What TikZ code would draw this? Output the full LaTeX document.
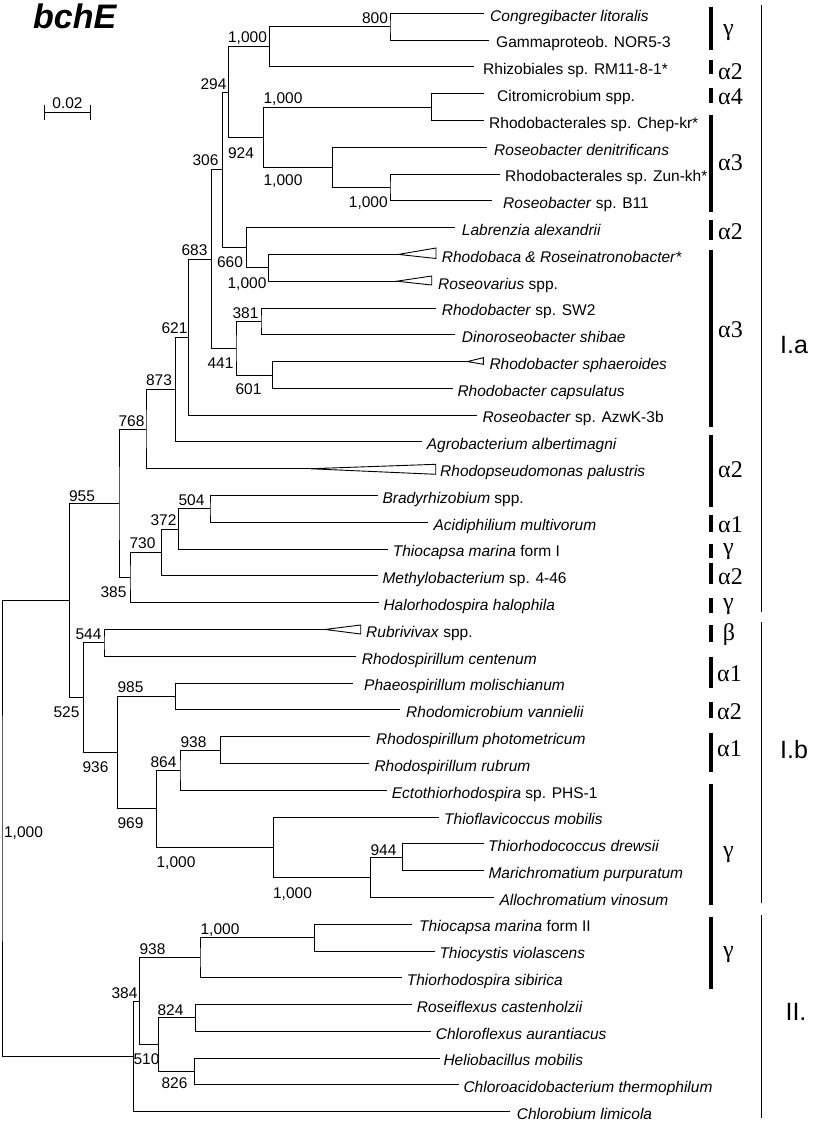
\documentclass[tikz,border=0pt]{standalone}
\usepackage{fontspec}
\setmainfont{Liberation Sans}
\newfontfamily\grkfont{Liberation Serif}
\newcommand\Yv[1]{13.3+26.79*#1}
\tikzset{
  br/.style={line width=0.9pt, line cap=rect},
  leaf/.style={anchor=base west, inner sep=0pt, font=\fontsize{15.5}{16}\selectfont},
  boot/.style={anchor=base, inner sep=0pt, font=\fontsize{15.5}{16}\selectfont},
  grpbar/.style={line width=3.4pt},
  cladebar/.style={line width=1pt},
  glab/.style={inner sep=0pt, font=\grkfont\fontsize{24}{25}\selectfont},
  clab/.style={inner sep=0pt, font=\fontsize{25}{26}\selectfont},
}
\newcommand\leaf[4]{\coordinate (L#1) at (#2,{\Yv{#1}}); \node[leaf] (T#1) at (#3,{\Yv{#1}+7.8}) {#4};}
\newcommand\fork[3]{\draw[br] (#2) -| (#1) |- (#3);}
\newcommand\bs[4]{\node[boot] (#1) at (#2,{#3+5.5}) {#4};}
\begin{document}
\begin{tikzpicture}[x=1pt,y=-1pt]
\useasboundingbox (0,0) rectangle (812,1122);
% title and scale
\node[anchor=base west, inner sep=0pt, font=\bfseries\itshape\fontsize{34}{36}\selectfont] (title) at (33,28) {bchE};
\coordinate (s1) at (44.3,112.3); \coordinate (s2) at (90.7,112.3);
\coordinate (s1a) at (44.3,105); \coordinate (s1b) at (44.3,119.5);
\coordinate (s2a) at (90.7,105); \coordinate (s2b) at (90.7,119.5);
\draw[br] (s1) -- (s2); \draw[br] (s1a) -- (s1b); \draw[br] (s2a) -- (s2b);
\node[boot] (scl) at (67.5,108.2) {0.02};
% leaves
\leaf{0}{483.3}{490}{\textit{Congregibacter litoralis}}
\leaf{1}{488.3}{496}{Gammaproteob. NOR5-3}
\leaf{2}{473.3}{483}{Rhizobiales sp. RM11-8-1*}
\leaf{3}{483.3}{497}{Citromicrobium spp.}
\leaf{4}{483.3}{489}{Rhodobacterales sp. Chep-kr*}
\leaf{5}{486.7}{494}{\textit{Roseobacter denitrificans}}
\leaf{6}{499.3}{505}{Rhodobacterales sp. Zun-kh*}
\leaf{7}{491.7}{503}{\textit{Roseobacter} sp. B11}
\leaf{8}{455}{461.7}{\textit{Labrenzia alexandrii}}
\leaf{9}{398.3}{441.7}{\textit{Rhodobaca \& Roseinatronobacter*}}
\leaf{10}{396.7}{438}{\textit{Roseovarius} spp.}
\leaf{11}{436}{441.7}{\textit{Rhodobacter} sp. SW2}
\leaf{12}{455}{461.7}{\textit{Dinoroseobacter shibae}}
\leaf{13}{467.3}{489.3}{\textit{Rhodobacter sphaeroides}}
\leaf{14}{452.7}{457.3}{\textit{Rhodobacter capsulatus}}
\leaf{15}{476.7}{482.3}{\textit{Roseobacter} sp. AzwK-3b}
\leaf{16}{421.7}{426.7}{\textit{Agrobacterium albertimagni}}
\leaf{17}{310}{440}{\textit{Rhodopseudomonas palustris}}
\leaf{18}{377.3}{382.3}{\textit{Bradyrhizobium} spp.}
\leaf{19}{427.3}{433.3}{\textit{Acidiphilium multivorum}}
\leaf{20}{387.3}{392.7}{\textit{Thiocapsa marina} form I}
\leaf{21}{377.3}{382.3}{\textit{Methylobacterium} sp. 4-46}
\leaf{22}{378.3}{383.3}{\textit{Halorhodospira halophila}}
\leaf{23}{325}{366}{\textit{Rubrivivax} spp.}
\leaf{24}{356}{361.7}{\textit{Rhodospirillum centenum}}
\leaf{25}{352.7}{364}{\textit{Phaeospirillum molischianum}}
\leaf{26}{400}{406}{\textit{Rhodomicrobium vannielii}}
\leaf{27}{370}{376}{\textit{Rhodospirillum photometricum}}
\leaf{28}{369}{374.3}{\textit{Rhodospirillum rubrum}}
\leaf{29}{386.7}{391.7}{\textit{Ectothiorhodospira} sp. PHS-1}
\leaf{30}{438.3}{444}{\textit{Thioflavicoccus mobilis}}
\leaf{31}{484}{488}{\textit{Thiorhodococcus drewsii}}
\leaf{32}{483.3}{488.3}{\textit{Marichromatium purpuratum}}
\leaf{33}{493.3}{499.3}{\textit{Allochromatium vinosum}}
\leaf{34}{411.7}{419}{\textit{Thiocapsa marina} form II}
\leaf{35}{435}{439.3}{\textit{Thiocystis violascens}}
\leaf{36}{401.7}{406.7}{\textit{Thiorhodospira sibirica}}
\leaf{37}{411.7}{416.7}{\textit{Roseiflexus castenholzii}}
\leaf{38}{430.7}{435.7}{\textit{Chloroflexus aurantiacus}}
\leaf{39}{439.3}{443.3}{\textit{Heliobacillus mobilis}}
\leaf{40}{458.3}{463.3}{\textit{Chloroacidobacterium thermophilum}}
\leaf{41}{510}{516.7}{\textit{Chlorobium limicola}}
% collapsed triangles
\draw[br] (L9) -- (436,248) -- (436,258.5) -- cycle;
\draw[br] (L10) -- (431.7,276) -- (431.7,285) -- cycle;
\draw[br] (L13) -- (483.3,357.7) -- (483.3,364.3) -- cycle;
\draw[br] (L17) -- (435.7,464.3) -- (435.7,474.3) -- cycle;
\draw[br] (L23) -- (360.7,625) -- (360.7,634) -- cycle;
% internal nodes
\coordinate (n800) at (390,{\Yv{0.5}});
\coordinate (nA) at (269.3,{\Yv{1.25}});
\coordinate (nCit) at (431.7,{\Yv{3.5}});
\coordinate (nZun) at (390,{\Yv{6.5}});
\coordinate (nRos) at (332.7,{\Yv{5.75}});
\coordinate (n924) at (263.3,{\Yv{4.625}});
\coordinate (n294) at (228.3,{\Yv{2.9375}});
\coordinate (nRba) at (268.3,{\Yv{9.5}});
\coordinate (n660) at (246.7,{\Yv{8.75}});
\coordinate (n306) at (222.7,{\Yv{5.84375}});
\coordinate (n381) at (261,{\Yv{11.5}});
\coordinate (n601) at (272.7,{\Yv{13.5}});
\coordinate (n441) at (236,{\Yv{12.5}});
\coordinate (n683) at (211.7,{\Yv{9.171875}});
\coordinate (n621) at (188.3,{\Yv{12.0859375}});
\coordinate (n873) at (175.7,{\Yv{14.04296875}});
\coordinate (n768) at (146,{\Yv{15.521484375}});
\coordinate (n504) at (210,{\Yv{18.5}});
\coordinate (n372) at (178.3,{\Yv{19.25}});
\coordinate (n730) at (161.7,{\Yv{20.125}});
\coordinate (n385) at (130,{\Yv{21.0625}});
\coordinate (n955) at (119,{\Yv{18.2919921875}});
\coordinate (n544) at (104,{\Yv{23.5}});
\coordinate (n985) at (175.7,{\Yv{25.5}});
\coordinate (n938) at (220.7,{\Yv{27.5}});
\coordinate (n864) at (180,{\Yv{28.25}});
\coordinate (n944) at (402.3,{\Yv{31.5}});
\coordinate (nAll) at (370.7,{\Yv{32.25}});
\coordinate (nTfl) at (273.3,{\Yv{31.125}});
\coordinate (n969) at (156.7,{\Yv{29.6875}});
\coordinate (n936) at (117.7,{\Yv{27.59375}});
\coordinate (n525) at (83.3,{\Yv{25.546875}});
\coordinate (nI) at (69.3,{\Yv{21.91943359375}});
\coordinate (nTc) at (314.3,{\Yv{34.5}});
\coordinate (n938b) at (200,{\Yv{35.25}});
\coordinate (n824) at (195.7,{\Yv{37.5}});
\coordinate (n826) at (194.3,{\Yv{39.5}});
\coordinate (n510) at (158.3,{\Yv{38.5}});
\coordinate (n384) at (139.3,{\Yv{36.875}});
\coordinate (nII) at (133.3,{\Yv{38.9375}});
\coordinate (root) at (2,{\Yv{30.428466796875}});
% forks
\fork{n800}{L0}{L1}
\fork{nA}{n800}{L2}
\fork{nCit}{L3}{L4}
\fork{nZun}{L6}{L7}
\fork{nRos}{L5}{nZun}
\fork{n924}{nCit}{nRos}
\fork{n294}{nA}{n924}
\fork{nRba}{L9}{L10}
\fork{n660}{L8}{nRba}
\fork{n306}{n294}{n660}
\fork{n381}{L11}{L12}
\fork{n601}{L13}{L14}
\fork{n441}{n381}{n601}
\fork{n683}{n306}{n441}
\fork{n621}{n683}{L15}
\fork{n873}{n621}{L16}
\fork{n768}{n873}{L17}
\fork{n504}{L18}{L19}
\fork{n372}{n504}{L20}
\fork{n730}{n372}{L21}
\fork{n385}{n730}{L22}
\fork{n955}{n768}{n385}
\fork{n544}{L23}{L24}
\fork{n985}{L25}{L26}
\fork{n938}{L27}{L28}
\fork{n864}{n938}{L29}
\fork{n944}{L31}{L32}
\fork{nAll}{n944}{L33}
\fork{nTfl}{L30}{nAll}
\fork{n969}{n864}{nTfl}
\fork{n936}{n985}{n969}
\fork{n525}{n544}{n936}
\fork{nI}{n955}{n525}
\fork{nTc}{L34}{L35}
\fork{n938b}{nTc}{L36}
\fork{n824}{L37}{L38}
\fork{n826}{L39}{L40}
\fork{n510}{n824}{n826}
\fork{n384}{n938b}{n510}
\fork{nII}{n384}{L41}
\fork{root}{nI}{nII}
% bootstrap values
\bs{b800}{375}{18}{800}
\bs{bA}{247.5}{37.3}{1,000}
\bs{b294}{213.5}{84}{294}
\bs{bCit}{283}{98}{1,000}
\bs{b924}{241}{153}{924}
\bs{b306}{205.5}{160}{306}
\bs{bRos}{283}{180}{1,000}
\bs{bZun}{368.3}{201.7}{1,000}
\bs{b683}{194.5}{250}{683}
\bs{b660}{230}{261.7}{660}
\bs{bRba}{247}{283}{1,000}
\bs{b381}{245.5}{313.3}{381}
\bs{b621}{174.5}{328}{621}
\bs{b441}{220.5}{362.7}{441}
\bs{b873}{159}{380}{873}
\bs{b601}{248.5}{389}{601}
\bs{b768}{131.5}{420.7}{768}
\bs{b955}{82}{496}{955}
\bs{b504}{191.5}{500}{504}
\bs{b372}{163.5}{520}{372}
\bs{b730}{142.5}{543}{730}
\bs{b385}{113.5}{592}{385}
\bs{b544}{88.5}{634}{544}
\bs{b985}{130.5}{687}{985}
\bs{b525}{66.5}{712.3}{525}
\bs{b938}{193.5}{741.7}{938}
\bs{b864}{163.5}{762.3}{864}
\bs{b936}{95.5}{766.7}{936}
\bs{b969}{130.5}{823}{969}
\bs{broot}{23.5}{832}{1,000}
\bs{b944}{383.5}{850}{944}
\bs{bTfl}{176}{861.7}{1,000}
\bs{bAll}{292.5}{893.3}{1,000}
\bs{bTc}{220}{929}{1,000}
\bs{b938b}{152.5}{949.3}{938}
\bs{b384}{124.5}{993.3}{384}
\bs{b824}{170.5}{1010}{824}
\bs{b510}{146.5}{1059}{510}
\bs{b826}{174.5}{1083.3}{826}
% group bars (thick) with Greek labels
\coordinate (g1a) at (711,6.7); \coordinate (g1b) at (711,50); \draw[grpbar] (g1a) -- (g1b);
\node[glab] (g1t) at (728.5,33) {γ};
\coordinate (g2a) at (711,60); \coordinate (g2b) at (711,74); \draw[grpbar] (g2a) -- (g2b);
\node[glab,anchor=west] (g2t) at (718,72) {α2};
\coordinate (g3a) at (711,88.3); \coordinate (g3b) at (711,103.3); \draw[grpbar] (g3a) -- (g3b);
\node[glab,anchor=west] (g3t) at (718,97) {α4};
\coordinate (g4a) at (711,115); \coordinate (g4b) at (711,211.7); \draw[grpbar] (g4a) -- (g4b);
\node[glab,anchor=west] (g4t) at (718,163) {α3};
\coordinate (g5a) at (711,220); \coordinate (g5b) at (711,240); \draw[grpbar] (g5a) -- (g5b);
\node[glab,anchor=west] (g5t) at (718,231.7) {α2};
\coordinate (g6a) at (711,250); \coordinate (g6b) at (711,426.7); \draw[grpbar] (g6a) -- (g6b);
\node[glab,anchor=west] (g6t) at (718,330) {α3};
\coordinate (g7a) at (711,435); \coordinate (g7b) at (711,506.7); \draw[grpbar] (g7a) -- (g7b);
\node[glab,anchor=west] (g7t) at (718,470) {α2};
\coordinate (g8a) at (711,515); \coordinate (g8b) at (711,531.7); \draw[grpbar] (g8a) -- (g8b);
\node[glab,anchor=west] (g8t) at (718,525) {α1};
\coordinate (g9a) at (711,544.3); \coordinate (g9b) at (711,558.3); \draw[grpbar] (g9a) -- (g9b);
\node[glab] (g9t) at (728.5,551.7) {γ};
\coordinate (g10a) at (711,563); \coordinate (g10b) at (711,584); \draw[grpbar] (g10a) -- (g10b);
\node[glab,anchor=west] (g10t) at (718,576.7) {α2};
\coordinate (g11a) at (711,598); \coordinate (g11b) at (711,613); \draw[grpbar] (g11a) -- (g11b);
\node[glab] (g11t) at (728.5,606.7) {γ};
\coordinate (g12a) at (711,625); \coordinate (g12b) at (711,641.7); \draw[grpbar] (g12a) -- (g12b);
\node[glab] (g12t) at (729,635) {β};
\coordinate (g13a) at (711,656.7); \coordinate (g13b) at (711,688.3); \draw[grpbar] (g13a) -- (g13b);
\node[glab,anchor=west] (g13t) at (717,673.3) {α1};
\coordinate (g14a) at (711,701.7); \coordinate (g14b) at (711,718.3); \draw[grpbar] (g14a) -- (g14b);
\node[glab,anchor=west] (g14t) at (717,711.7) {α2};
\coordinate (g15a) at (711,732.7); \coordinate (g15b) at (711,771.7); \draw[grpbar] (g15a) -- (g15b);
\node[glab,anchor=west] (g15t) at (717,748.3) {α1};
\coordinate (g16a) at (711,784); \coordinate (g16b) at (711,905); \draw[grpbar] (g16a) -- (g16b);
\node[glab] (g16t) at (728.5,855) {γ};
\coordinate (g17a) at (711,916.7); \coordinate (g17b) at (711,989); \draw[grpbar] (g17a) -- (g17b);
\node[glab] (g17t) at (728.5,955) {γ};
% clade bars (thin)
\coordinate (c1a) at (761.7,5); \coordinate (c1b) at (761.7,611.7); \draw[cladebar] (c1a) -- (c1b);
\node[clab] (c1t) at (794,345) {I.a};
\coordinate (c2a) at (761.7,621.7); \coordinate (c2b) at (761.7,903.3); \draw[cladebar] (c2a) -- (c2b);
\node[clab] (c2t) at (794,750) {I.b};
\coordinate (c3a) at (761.7,915); \coordinate (c3b) at (761.7,1118); \draw[cladebar] (c3a) -- (c3b);
\node[clab] (c3t) at (796,1011.7) {II.};
\end{tikzpicture}
\end{document}
